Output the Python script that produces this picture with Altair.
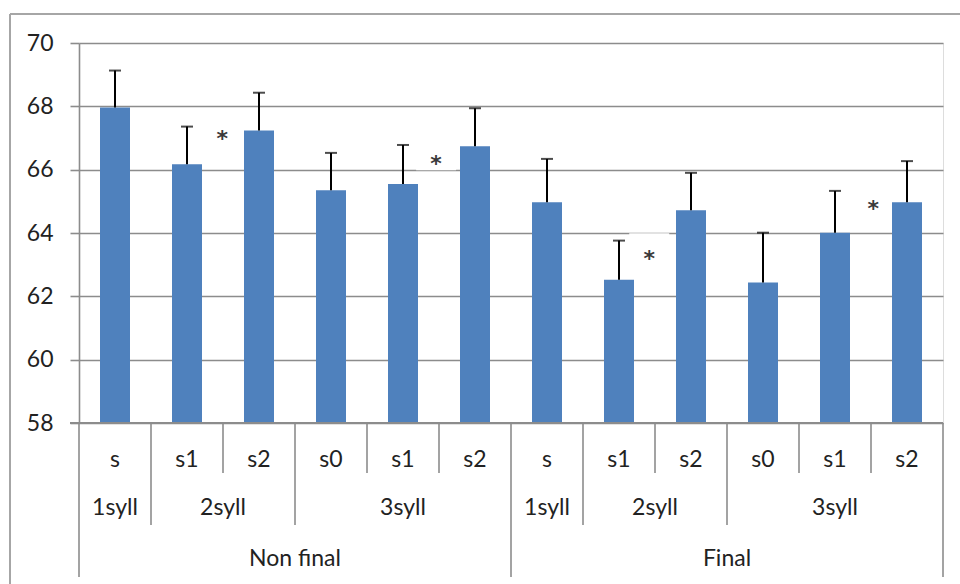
import altair as alt
import pandas as pd

# ---- data ----
stress = ["s", "s1", "s2", "s0", "s1", "s2", "s", "s1", "s2", "s0", "s1", "s2"]
means = [67.96, 66.17, 67.24, 65.35, 65.55, 66.74, 64.97, 62.52, 64.72, 62.44, 64.01, 64.97]
upper = [69.13, 67.36, 68.43, 66.53, 66.78, 67.94, 66.34, 63.76, 65.90, 64.01, 65.33, 66.27]
syll_groups = ["1syll", "2syll", "3syll", "1syll", "2syll", "3syll"]
syll_sizes = [1, 2, 3, 1, 2, 3]
pos_groups = ["Non final", "Final"]
pos_sizes = [6, 6]
star_pos = [1.99, 4.96, 7.92, 11.03]
star_values = [67.1, 66.3, 63.3, 64.9]

W, H = 864, 380
FONT = "Lato"
FS = 23
TXT = "#222222"
GRID = "#8c8c8c"
BAR = "#4F81BD"

bars = pd.DataFrame({
    "pos": [i + 0.5 for i in range(len(means))],
    "label": stress,
    "mean": means,
    "upper": upper,
})


def groups(names, sizes):
    rows, start = [], 0
    for n, s in zip(names, sizes):
        rows.append({"name": n, "center": start + s / 2, "start": start, "end": start + s})
        start += s
    return pd.DataFrame(rows)


syll_df = groups(syll_groups, syll_sizes)
pos_df = groups(pos_groups, pos_sizes)

all_bounds = list(range(0, len(means) + 1))
pos_bounds = sorted(set(pos_df["start"]).union(pos_df["end"]))
syll_bounds = sorted(set(syll_df["start"]).union(syll_df["end"]) - set(pos_bounds))
inner_bounds = [b for b in all_bounds if b not in syll_bounds and b not in pos_bounds]

bound_df = pd.DataFrame(
    [{"b": b, "len": 50} for b in inner_bounds]
    + [{"b": b, "len": 102} for b in syll_bounds]
    + [{"b": b, "len": 154} for b in pos_bounds]
)

stars = pd.DataFrame({"pos": star_pos, "v": star_values})

xs = alt.Scale(domain=[0, len(means)], nice=False, zero=False, padding=0)
ys = alt.Scale(domain=[58, 70], nice=False, zero=False)

base = alt.Chart(bars)

# white text-box behind each asterisk (hides gridlines like Excel's text box)
star_box = alt.Chart(stars).mark_point(
    shape="M-1,-1.1L1,-1.1L1,0.5L-1,0.5Z", filled=True, color="white", opacity=1, size=1600
).encode(
    x=alt.X("pos:Q", scale=xs, axis=None),
    y=alt.Y(
        "v:Q",
        scale=ys,
        axis=alt.Axis(
            values=[58, 60, 62, 64, 66, 68, 70],
            title=None,
            grid=True,
            gridColor=GRID,
            gridWidth=1.6,
            domainColor=GRID,
            domainWidth=1.6,
            tickColor=GRID,
            tickWidth=1.6,
            tickSize=9,
            labelPadding=17,
            labelFont=FONT,
            labelFontSize=FS,
            labelColor=TXT,
        ),
    ),
)

bar_layer = base.mark_bar(size=30, color=BAR).encode(
    x=alt.X("pos:Q", scale=xs),
    y=alt.Y("mean:Q", scale=ys),
    y2=alt.datum(58),
)

err_line = base.mark_rule(color="black", strokeWidth=2).encode(
    x=alt.X("pos:Q", scale=xs), y=alt.Y("mean:Q", scale=ys), y2="upper:Q"
)
err_cap = base.mark_tick(color="black", orient="horizontal", size=12, thickness=2).encode(
    x=alt.X("pos:Q", scale=xs), y=alt.Y("upper:Q", scale=ys)
)

star_layer = alt.Chart(stars).mark_text(
    text="*", font="DejaVu Sans", fontSize=22, fontWeight="bold", color="#3a3a3a",
    baseline="middle", dy=4,
).encode(x=alt.X("pos:Q", scale=xs), y=alt.Y("v:Q", scale=ys))

bottom_line = alt.Chart(bars).mark_rule(color=GRID, strokeWidth=1.6).encode(
    x=alt.value(-9), x2=alt.value(W), y=alt.value(H)
)

div_layers = []
for ln in sorted(bound_df["len"].unique()):
    sub = bound_df[bound_df["len"] == ln]
    div_layers.append(
        alt.Chart(sub).mark_rule(color=GRID, strokeWidth=1.6).encode(
            x=alt.X("b:Q", scale=xs), y=alt.value(H), y2=alt.value(H + int(ln))
        )
    )

lbl1 = alt.Chart(bars).mark_text(font=FONT, fontSize=FS, color=TXT, baseline="middle").encode(
    x=alt.X("pos:Q", scale=xs), y=alt.value(H + 37), text="label:N"
)
lbl2 = alt.Chart(syll_df).mark_text(font=FONT, fontSize=FS, color=TXT, baseline="middle").encode(
    x=alt.X("center:Q", scale=xs), y=alt.value(H + 85), text="name:N"
)
lbl3 = alt.Chart(pos_df).mark_text(font=FONT, fontSize=FS, color=TXT, baseline="middle").encode(
    x=alt.X("center:Q", scale=xs), y=alt.value(H + 136), text="name:N"
)

frame_top = alt.Chart(bars).mark_rule(color="#a6a6a6", strokeWidth=2).encode(
    x=alt.value(-69), x2=alt.value(W + 40), y=alt.value(-29)
)
frame_left = alt.Chart(bars).mark_rule(color="#a6a6a6", strokeWidth=2).encode(
    x=alt.value(-69), y=alt.value(-29), y2=alt.value(H + 200)
)

chart = alt.layer(
    star_box, bar_layer, err_line, err_cap, star_layer, bottom_line, *div_layers,
    lbl1, lbl2, lbl3, frame_top, frame_left,
).properties(
    width=W, height=H,
    autosize=alt.AutoSizeParams(type="none"),
    padding={"left": 79, "top": 43, "right": 17, "bottom": 161},
).configure_view(stroke=None).configure(background="white")

chart.save("out.html", embed_options={"renderer": "svg", "actions": False})
